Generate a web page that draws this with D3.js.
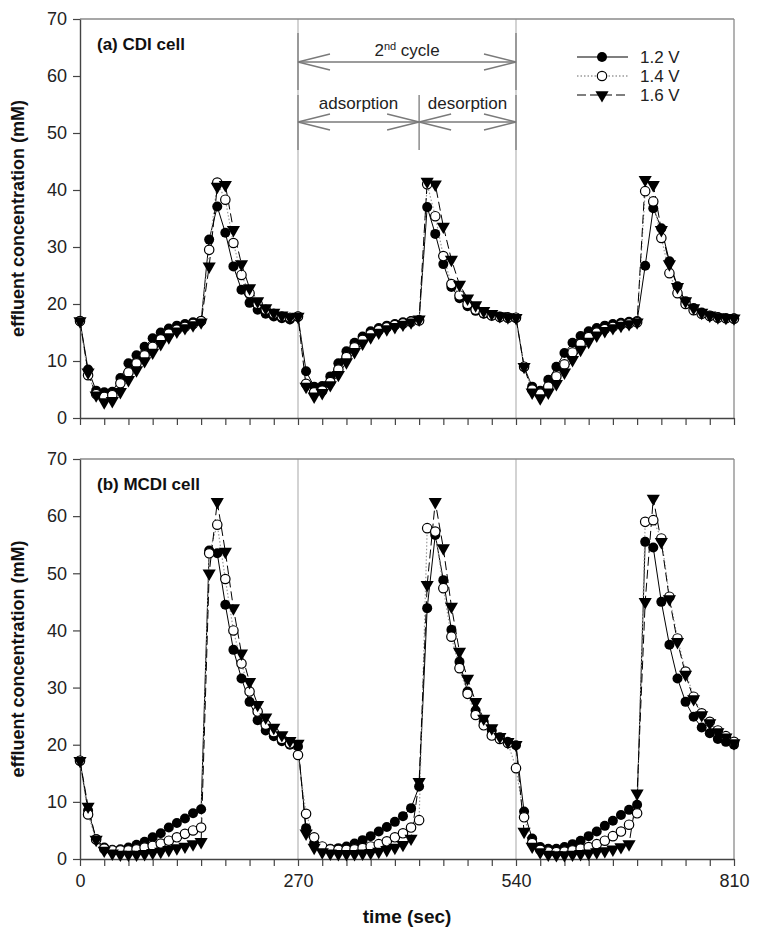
<!DOCTYPE html>
<html><head><meta charset="utf-8">
<script src="https://cdn.jsdelivr.net/npm/d3@7"></script>
<style>
body{margin:0;background:#fff;}
svg{display:block;font-family:"Liberation Sans",Arial,sans-serif;}
</style></head>
<body>
<svg id="chart" width="757" height="937"></svg>
<script>
// ---------------- DATA ----------------
const times = [0,10,20,30,40,50,60,70,80,90,100,110,120,130,140,150,160,170,180,190,200,210,220,230,240,250,260,270,
 280,290,300,310,320,330,340,350,360,370,380,390,400,410,420,430,440,450,460,470,480,490,500,510,520,530,540,
 550,560,570,580,590,600,610,620,630,640,650,660,670,680,690,700,710,720,730,740,750,760,770,780,790,800,810];

const seriesNames = ["1.2 V","1.4 V","1.6 V"];
const xTickLabels = [0,270,540,810];
const yTicks = [0,10,20,30,40,50,60,70];

// (a) CDI cell
const cdi12 = [17,8.5,4.8,4.5,4.6,7,9.6,11,12.5,14,15,15.7,16.2,16.5,16.8,17,
 31.3,37.1,32.5,26.6,22.5,20.2,19,18.3,17.8,17.5,17.3,17.8,
 8.2,5.5,5.6,7.3,9.6,11.7,13.2,14.3,15.2,15.8,16.2,16.5,16.8,17,17.2,
 37,32.3,27,23,21,19.6,18.8,18.3,18,17.8,17.7,17.6,
 9,5.5,4.8,6.7,9,11.4,13.2,14.4,15.2,15.8,16.2,16.5,16.7,16.9,17,
 26.7,36.8,33.3,27.5,23.1,20.5,19.3,18.5,18,17.7,17.5,17.5];
const cdi14 = [17,7.5,4.2,3.7,4,6.1,8,9.6,11,12.5,13.8,14.8,15.5,16,16.5,17,
 29.5,41.3,38.3,30.7,25.1,21.9,20,19,18.3,17.8,17.6,17.8,
 6,4.5,4.8,6.3,8.5,10.7,12.4,13.7,14.7,15.4,15.9,16.3,16.6,16.9,17.1,
 41,35.4,28.4,23.5,21.5,20,19,18.4,18,17.7,17.6,17.6,
 9,5,4.3,5.5,7.3,9.4,11.5,13,14.2,15,15.6,16,16.4,16.6,16.8,
 39.8,38,31.6,25.4,21.9,20,18.9,18.3,17.9,17.6,17.5,17.4];
const cdi16 = [17,8,4,2.8,3,4.6,6.7,8.4,10,11.5,13,14.2,15.2,15.8,16.3,16.8,
 26.6,40.6,40.9,33,27,22.8,20.5,19.3,18.5,18,17.7,17.8,
 5.5,3.8,4.4,5.8,7.6,9.8,11.6,13.1,14.2,15,15.6,16,16.4,16.8,17.3,
 41.5,41,33.6,27.8,23.4,21,19.8,18.8,18.3,17.9,17.7,17.6,
 9,4.5,3.5,4.5,6,8,10.2,12,13.4,14.5,15.3,15.8,16.2,16.5,16.8,
 41.8,40.9,33,27,23,20.5,19.3,18.5,18,17.7,17.6,17.5];

// (b) MCDI cell
const mcdi12 = [17.2,8.5,3.5,2,1.6,1.7,2,2.5,3,3.8,4.5,5.5,6.3,7.1,8,8.7,
 54,53.5,44.5,36.6,31.6,27.5,24.3,22.5,21.5,20.6,20,19.7,
 5.4,2.8,2,1.8,1.9,2.2,2.7,3.3,4,4.8,5.6,6.5,7.5,8.9,12.7,
 43.9,56.7,48.8,40.1,34.5,29.3,26,24,22.5,21.3,20.5,19.9,
 8.3,3.6,2.1,1.8,1.8,2.1,2.6,3.2,4,4.8,5.8,6.7,7.7,8.6,9.5,
 55.5,54.5,45,37.5,31.6,27.5,24.9,23,22,21,20.5,20];
const mcdi14 = [17.2,7.8,3.4,1.8,1.5,1.5,1.5,1.7,2,2.3,2.7,3.2,3.8,4.4,5,5.5,
 53.5,58.5,49,40,34.2,29.3,25.8,23.5,22.2,21,20.2,18.2,
 7.9,3.8,2.2,1.7,1.6,1.6,1.7,1.9,2.2,2.6,3.1,3.8,4.5,5.5,6.8,
 57.9,57.3,47.4,38.9,33.4,28.9,25.2,23.4,21.6,21,20.3,15.9,
 7.3,2.8,1.6,1.3,1.2,1.3,1.5,1.8,2.1,2.6,3.2,4,4.8,6,8,
 59,59.3,56.1,45.9,38.6,32.8,28.4,25.5,24,22.5,21.5,20.5];
const mcdi16 = [17.2,9.2,3.4,1.5,1,0.8,0.8,0.8,0.9,1.1,1.3,1.6,1.9,2.2,2.6,3,
 50,62.5,53.8,43.9,36,31,27,24.8,23,21.7,20.7,20.2,
 4.5,2,1.2,1,0.9,0.9,0.9,1,1.1,1.3,1.6,2,2.5,3.6,13.5,
 48,62.5,54.4,44.2,36.3,31.6,27.5,24.6,22.9,21.4,20.5,20,
 4.8,2.2,1.2,0.8,0.7,0.7,0.8,0.9,1,1.2,1.4,1.7,2.1,2.6,11.5,
 45,63.1,55.5,45.5,38,32.3,28,25.2,23.8,22.2,21.3,20.3];

// ---------------- DRAW ----------------
const svg = d3.select("#chart");
const x = d3.scaleLinear().domain([0,810]).range([80,734]);
const FONT = '"Liberation Sans",Arial,sans-serif';

const styles = [
  {stroke:"#000", dash:null, width:1, marker:"filled"},
  {stroke:"#9a9a9a", dash:"1.5,2", width:1.2, marker:"open"},
  {stroke:"#000", dash:"9,4", width:1, marker:"tri"}
];

function drawMarker(g, type, cx, cy){
  if(type==="filled"){
    g.append("circle").attr("cx",cx).attr("cy",cy).attr("r",5).attr("fill","#000");
  } else if(type==="open"){
    g.append("circle").attr("cx",cx).attr("cy",cy).attr("r",4.7).attr("fill","#fff").attr("stroke","#000").attr("stroke-width",1.2);
  } else {
    g.append("path").attr("d",d3.symbol().type(d3.symbolTriangle).size(75)())
     .attr("transform",`translate(${cx},${cy}) rotate(180)`).attr("fill","#000");
  }
}

function panel(y, top, bottom, data, label, showXLabels){
  const g = svg.append("g");
  [270,540].forEach(t=>{
    g.append("line").attr("x1",x(t)).attr("x2",x(t)).attr("y1",top).attr("y2",bottom)
     .attr("stroke","#cfcfcf").attr("stroke-width",1.8);
  });
  g.append("line").attr("x1",x(0)).attr("x2",x(810)).attr("y1",top).attr("y2",top).attr("stroke","#8a8a8a").attr("stroke-width",1.3);
  g.append("line").attr("x1",x(810)).attr("x2",x(810)).attr("y1",top).attr("y2",bottom).attr("stroke","#8a8a8a").attr("stroke-width",1.3);
  const xa = d3.axisBottom(x).tickValues(d3.range(0,811,30)).tickSize(7).tickSizeOuter(0).tickPadding(8)
     .tickFormat(d => showXLabels && xTickLabels.includes(d) ? d : "");
  const gx = g.append("g").attr("transform",`translate(0,${bottom})`).call(xa);
  const ya = d3.axisLeft(y).tickValues(yTicks).tickSize(7).tickSizeOuter(0).tickPadding(6);
  const gy = g.append("g").attr("transform",`translate(${x(0)},0)`).call(ya);
  [gx,gy].forEach(a=>{
    a.select(".domain").attr("stroke","#444").attr("stroke-width",1.4);
    a.selectAll(".tick line").attr("stroke","#444").attr("stroke-width",1.2);
    a.selectAll(".tick text").attr("fill","#222").style("font-family",FONT).style("font-size","18px");
  });
  data.forEach((vals,i)=>{
    const st = styles[i];
    const line = d3.line().x((d,j)=>x(times[j])).y(d=>y(d));
    g.append("path").datum(vals).attr("d",line).attr("fill","none")
     .attr("stroke",st.stroke).attr("stroke-width",st.width).attr("stroke-dasharray",st.dash);
  });
  data.forEach((vals,i)=>{
    const mg = g.append("g");
    vals.forEach((v,j)=>drawMarker(mg, styles[i].marker, x(times[j]), y(v)));
  });
  g.append("text").attr("x",x(0)+17).attr("y",top+31).text(label)
   .style("font-family",FONT).style("font-weight","bold").style("font-size","17px").attr("fill","#111");
  g.append("text").attr("transform",`translate(24,${(top+bottom)/2}) rotate(-90)`)
   .attr("text-anchor","middle").text("effluent concentration (mM)")
   .style("font-family",FONT).style("font-weight","bold").style("font-size","18px").attr("fill","#111");
  return g;
}

const yTop = d3.scaleLinear().domain([0,70]).range([418,19]);
const yBot = d3.scaleLinear().domain([0,70]).range([859,459]);

panel(yTop, 19, 418, [cdi12,cdi14,cdi16], "(a) CDI cell", false);
panel(yBot, 459, 859, [mcdi12,mcdi14,mcdi16], "(b) MCDI cell", true);

svg.append("text").attr("x",(x(0)+x(810))/2).attr("y",923).attr("text-anchor","middle")
  .text("time (sec)").style("font-family",FONT).style("font-weight","bold").style("font-size","19px").attr("fill","#111");

// annotations (top panel)
const ann = svg.append("g").attr("stroke","#7a7a7a").attr("stroke-width",1.3).attr("fill","none");
const xa0 = x(270), xa1 = x(420), xa2 = x(540);
[[xa0,33,90],[xa2,33,90],[xa0,95,150],[xa1,95,150],[xa2,95,150]].forEach(([xx,y1,y2])=>{
  ann.append("line").attr("x1",xx).attr("x2",xx).attr("y1",y1).attr("y2",y2);
});
function arrow(xs, xe, yy){
  ann.append("line").attr("x1",xs).attr("x2",xe).attr("y1",yy).attr("y2",yy);
  ann.append("path").attr("d",`M${xs+32},${yy-8}L${xs},${yy}L${xs+32},${yy+8}`);
  ann.append("path").attr("d",`M${xe-32},${yy-8}L${xe},${yy}L${xe-32},${yy+8}`);
}
arrow(xa0, xa2, 62);
arrow(xa0, xa1, 122);
arrow(xa1, xa2, 122);
const t2 = svg.append("text").attr("x",(xa0+xa2)/2).attr("y",56).attr("text-anchor","middle")
  .style("font-family",FONT).style("font-size","17px").attr("fill","#222");
t2.append("tspan").text("2");
t2.append("tspan").text("nd").attr("dy",-6).style("font-size","11px");
t2.append("tspan").text(" cycle").attr("dy",6);
svg.append("text").attr("x",(xa0+xa1)/2).attr("y",109).attr("text-anchor","middle").text("adsorption")
  .style("font-family",FONT).style("font-size","17px").attr("fill","#222");
svg.append("text").attr("x",(xa1+xa2)/2).attr("y",109).attr("text-anchor","middle").text("desorption")
  .style("font-family",FONT).style("font-size","17px").attr("fill","#222");

// legend
const leg = svg.append("g");
seriesNames.forEach((name,i)=>{
  const yy = 57 + i*19;
  const st = styles[i];
  leg.append("line").attr("x1",577).attr("x2",628).attr("y1",yy).attr("y2",yy)
    .attr("stroke",st.stroke).attr("stroke-width",st.width+0.2).attr("stroke-dasharray",st.dash);
  drawMarker(leg, st.marker, 602, yy);
  leg.append("text").attr("x",640).attr("y",yy+6).text(name)
    .style("font-family",FONT).style("font-size","17px").attr("fill","#222");
});
</script>
</body></html>
